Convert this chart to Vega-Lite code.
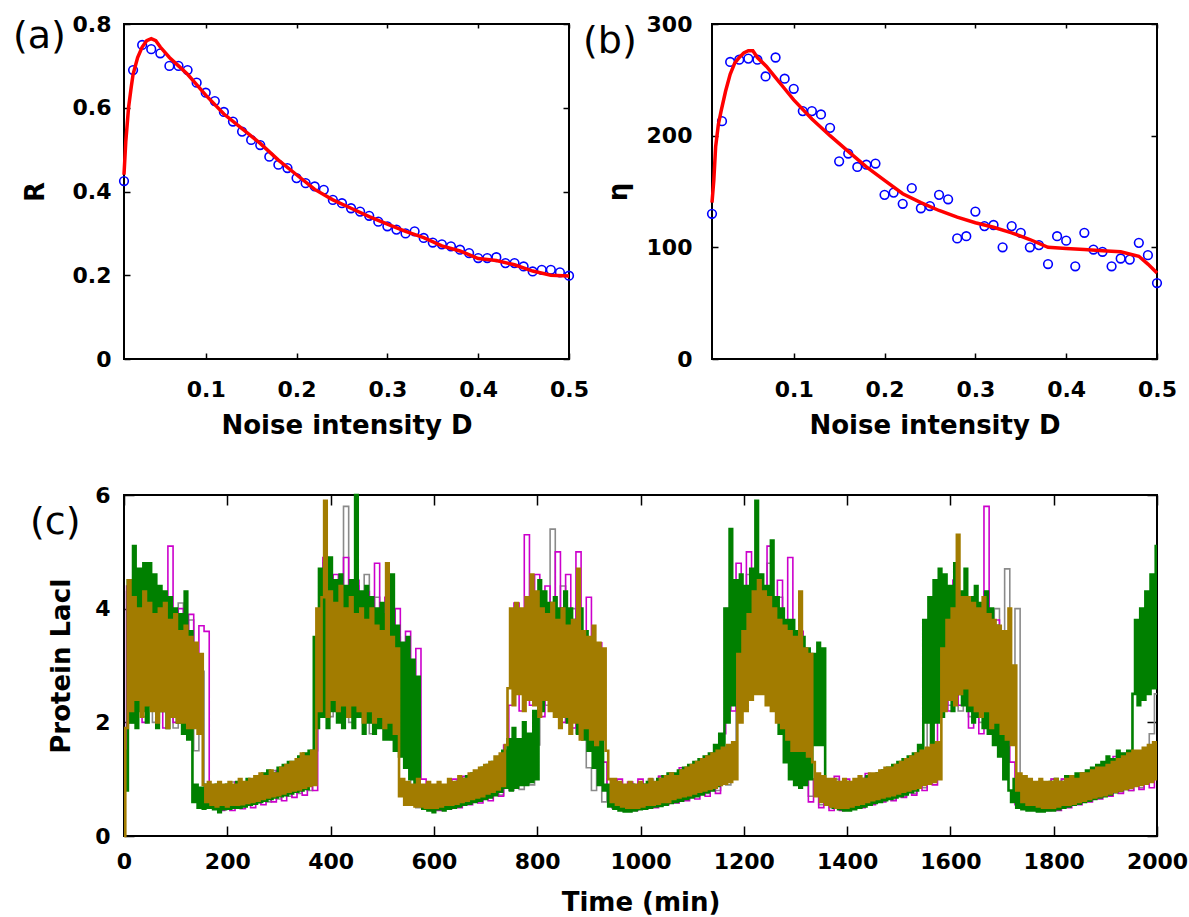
{
"$schema": "https://vega.github.io/schema/vega-lite/v6.json",
"background": "white",
"padding": {"left": 12, "top": 12, "right": 5, "bottom": 5},
"spacing": 44,
"config": {
  "view": {"stroke": "black", "strokeWidth": 2},
  "axis": {"domain": false, "grid": false, "tickColor": "black", "tickWidth": 1.5, "labelFont": "DejaVu Sans", "labelFontWeight": "bold", "labelFontSize": 22, "labelColor": "black", "titleFont": "DejaVu Sans", "titleFontWeight": "bold", "titleFontSize": 26, "titleColor": "black", "labelOverlap": false, "labelFlush": false}
},
"datasets": {
  "pa": [{"D":0.01,"R":0.425},{"D":0.02,"R":0.69},{"D":0.03,"R":0.75},{"D":0.04,"R":0.74},{"D":0.05,"R":0.73},{"D":0.06,"R":0.70},{"D":0.07,"R":0.70},{"D":0.08,"R":0.69},{"D":0.09,"R":0.66},{"D":0.1,"R":0.636},{"D":0.11,"R":0.616},{"D":0.12,"R":0.59},{"D":0.13,"R":0.567},{"D":0.14,"R":0.543},{"D":0.15,"R":0.523},{"D":0.16,"R":0.511},{"D":0.17,"R":0.483},{"D":0.18,"R":0.464},{"D":0.19,"R":0.456},{"D":0.2,"R":0.432},{"D":0.21,"R":0.42},{"D":0.22,"R":0.412},{"D":0.23,"R":0.404},{"D":0.24,"R":0.38},{"D":0.25,"R":0.372},{"D":0.26,"R":0.36},{"D":0.27,"R":0.352},{"D":0.28,"R":0.342},{"D":0.29,"R":0.328},{"D":0.3,"R":0.317},{"D":0.31,"R":0.309},{"D":0.32,"R":0.30},{"D":0.33,"R":0.305},{"D":0.34,"R":0.289},{"D":0.35,"R":0.278},{"D":0.36,"R":0.274},{"D":0.37,"R":0.269},{"D":0.38,"R":0.261},{"D":0.39,"R":0.253},{"D":0.4,"R":0.241},{"D":0.41,"R":0.241},{"D":0.42,"R":0.243},{"D":0.43,"R":0.229},{"D":0.44,"R":0.229},{"D":0.45,"R":0.221},{"D":0.46,"R":0.209},{"D":0.47,"R":0.213},{"D":0.48,"R":0.213},{"D":0.49,"R":0.207},{"D":0.5,"R":0.199}],
  "ca": [{"D":0.01,"R":0.44},{"D":0.012,"R":0.52},{"D":0.015,"R":0.6},{"D":0.018,"R":0.65},{"D":0.02,"R":0.68},{"D":0.025,"R":0.72},{"D":0.03,"R":0.745},{"D":0.035,"R":0.76},{"D":0.04,"R":0.765},{"D":0.045,"R":0.76},{"D":0.05,"R":0.745},{"D":0.06,"R":0.72},{"D":0.07,"R":0.70},{"D":0.08,"R":0.68},{"D":0.09,"R":0.655},{"D":0.1,"R":0.63},{"D":0.12,"R":0.585},{"D":0.14,"R":0.55},{"D":0.16,"R":0.515},{"D":0.18,"R":0.475},{"D":0.2,"R":0.44},{"D":0.22,"R":0.405},{"D":0.24,"R":0.38},{"D":0.26,"R":0.36},{"D":0.28,"R":0.34},{"D":0.3,"R":0.322},{"D":0.32,"R":0.305},{"D":0.34,"R":0.29},{"D":0.36,"R":0.27},{"D":0.38,"R":0.258},{"D":0.4,"R":0.24},{"D":0.42,"R":0.235},{"D":0.44,"R":0.225},{"D":0.46,"R":0.21},{"D":0.48,"R":0.2},{"D":0.5,"R":0.198}],
  "pb": [{"D":0.01,"E":130},{"D":0.021,"E":213},{"D":0.03,"E":266},{"D":0.04,"E":268},{"D":0.05,"E":269},{"D":0.06,"E":268},{"D":0.069,"E":253},{"D":0.08,"E":270},{"D":0.09,"E":251},{"D":0.1,"E":242},{"D":0.11,"E":222},{"D":0.12,"E":222},{"D":0.13,"E":219},{"D":0.14,"E":207},{"D":0.15,"E":177},{"D":0.16,"E":184},{"D":0.17,"E":172},{"D":0.18,"E":174},{"D":0.19,"E":175},{"D":0.2,"E":147},{"D":0.21,"E":149},{"D":0.22,"E":139},{"D":0.23,"E":153},{"D":0.24,"E":135},{"D":0.25,"E":137},{"D":0.26,"E":147},{"D":0.27,"E":143},{"D":0.28,"E":108},{"D":0.29,"E":110},{"D":0.3,"E":132},{"D":0.31,"E":119},{"D":0.32,"E":120},{"D":0.33,"E":100},{"D":0.34,"E":119},{"D":0.35,"E":113},{"D":0.36,"E":100},{"D":0.37,"E":102},{"D":0.38,"E":85},{"D":0.39,"E":110},{"D":0.4,"E":106},{"D":0.41,"E":83},{"D":0.42,"E":113},{"D":0.43,"E":98},{"D":0.44,"E":96},{"D":0.45,"E":83},{"D":0.46,"E":90},{"D":0.47,"E":89},{"D":0.48,"E":104},{"D":0.49,"E":93},{"D":0.5,"E":68}],
  "cb": [{"D":0.01,"E":140},{"D":0.012,"E":160},{"D":0.014,"E":190},{"D":0.017,"E":210},{"D":0.02,"E":222},{"D":0.025,"E":240},{"D":0.03,"E":255},{"D":0.035,"E":265},{"D":0.04,"E":270},{"D":0.045,"E":274},{"D":0.05,"E":276},{"D":0.055,"E":276},{"D":0.06,"E":270},{"D":0.07,"E":262},{"D":0.08,"E":252},{"D":0.09,"E":242},{"D":0.1,"E":232},{"D":0.12,"E":215},{"D":0.14,"E":200},{"D":0.16,"E":186},{"D":0.18,"E":172},{"D":0.2,"E":160},{"D":0.22,"E":148},{"D":0.24,"E":140},{"D":0.26,"E":133},{"D":0.28,"E":127},{"D":0.3,"E":122},{"D":0.32,"E":118},{"D":0.34,"E":113},{"D":0.36,"E":107},{"D":0.38,"E":100},{"D":0.4,"E":99},{"D":0.42,"E":98},{"D":0.44,"E":97},{"D":0.46,"E":96},{"D":0.48,"E":92},{"D":0.49,"E":85},{"D":0.5,"E":77}],
  "gray": [{"t":0,"v":1.2},{"t":10,"v":4.3},{"t":20,"v":2.0},{"t":30,"v":4.4},{"t":40,"v":2.1},{"t":50,"v":4.2},{"t":60,"v":2.0},{"t":70,"v":4.3},{"t":80,"v":2.2},{"t":90,"v":4.0},{"t":100,"v":1.9},{"t":110,"v":4.1},{"t":120,"v":2.0},{"t":130,"v":3.8},{"t":140,"v":1.5},{"t":150,"v":2.9},{"t":160,"v":0.6},{"t":170,"v":0.9},{"t":180,"v":0.5},{"t":190,"v":0.9},{"t":200,"v":0.5},{"t":210,"v":0.95},{"t":220,"v":0.52},{"t":230,"v":0.95},{"t":240,"v":0.55},{"t":250,"v":1.0},{"t":260,"v":0.58},{"t":270,"v":1.05},{"t":280,"v":0.6},{"t":290,"v":1.15},{"t":300,"v":0.65},{"t":310,"v":1.2},{"t":320,"v":0.7},{"t":330,"v":1.3},{"t":340,"v":0.75},{"t":350,"v":1.4},{"t":360,"v":0.8},{"t":370,"v":1.5},{"t":380,"v":2.3},{"t":390,"v":4.6},{"t":400,"v":2.1},{"t":410,"v":4.5},{"t":420,"v":2.2},{"t":430,"v":5.8},{"t":440,"v":2.0},{"t":450,"v":4.4},{"t":460,"v":2.1},{"t":470,"v":4.6},{"t":480,"v":1.8},{"t":490,"v":4.2},{"t":500,"v":2.0},{"t":510,"v":3.9},{"t":520,"v":1.7},{"t":530,"v":3.5},{"t":540,"v":1.4},{"t":550,"v":3.0},{"t":560,"v":0.9},{"t":570,"v":0.5},{"t":580,"v":0.9},{"t":590,"v":0.5},{"t":600,"v":0.88},{"t":610,"v":0.5},{"t":620,"v":0.9},{"t":630,"v":0.52},{"t":640,"v":0.95},{"t":650,"v":0.55},{"t":660,"v":1.0},{"t":670,"v":0.6},{"t":680,"v":1.05},{"t":690,"v":0.62},{"t":700,"v":1.15},{"t":710,"v":0.68},{"t":720,"v":1.25},{"t":730,"v":0.72},{"t":740,"v":1.35},{"t":750,"v":0.8},{"t":760,"v":1.45},{"t":770,"v":0.82},{"t":780,"v":1.5},{"t":790,"v":0.9},{"t":800,"v":1.6},{"t":810,"v":4.3},{"t":820,"v":2.3},{"t":830,"v":5.4},{"t":840,"v":2.2},{"t":850,"v":4.4},{"t":860,"v":2.0},{"t":870,"v":4.0},{"t":880,"v":1.8},{"t":890,"v":3.5},{"t":900,"v":1.2},{"t":910,"v":0.8},{"t":920,"v":1.3},{"t":930,"v":0.6},{"t":940,"v":1.0},{"t":950,"v":0.5},{"t":960,"v":0.95},{"t":970,"v":0.5},{"t":980,"v":0.9},{"t":990,"v":0.5},{"t":1000,"v":0.95},{"t":1010,"v":0.52},{"t":1020,"v":1.0},{"t":1030,"v":0.55},{"t":1040,"v":1.05},{"t":1050,"v":0.58},{"t":1060,"v":1.1},{"t":1070,"v":0.62},{"t":1080,"v":1.15},{"t":1090,"v":0.65},{"t":1100,"v":1.2},{"t":1110,"v":0.7},{"t":1120,"v":1.3},{"t":1130,"v":0.75},{"t":1140,"v":1.4},{"t":1150,"v":0.8},{"t":1160,"v":1.55},{"t":1170,"v":0.9},{"t":1180,"v":1.6},{"t":1190,"v":3.8},{"t":1200,"v":2.4},{"t":1210,"v":4.6},{"t":1220,"v":2.6},{"t":1230,"v":4.4},{"t":1240,"v":2.5},{"t":1250,"v":4.8},{"t":1260,"v":2.2},{"t":1270,"v":4.2},{"t":1280,"v":2.0},{"t":1290,"v":3.8},{"t":1300,"v":1.4},{"t":1310,"v":2.0},{"t":1320,"v":1.2},{"t":1330,"v":0.7},{"t":1340,"v":1.0},{"t":1350,"v":0.55},{"t":1360,"v":1.0},{"t":1370,"v":0.5},{"t":1380,"v":1.0},{"t":1390,"v":0.5},{"t":1400,"v":0.95},{"t":1410,"v":0.52},{"t":1420,"v":1.0},{"t":1430,"v":0.55},{"t":1440,"v":1.05},{"t":1450,"v":0.58},{"t":1460,"v":1.1},{"t":1470,"v":0.62},{"t":1480,"v":1.15},{"t":1490,"v":0.65},{"t":1500,"v":1.2},{"t":1510,"v":0.7},{"t":1520,"v":1.25},{"t":1530,"v":0.75},{"t":1540,"v":1.35},{"t":1550,"v":0.85},{"t":1560,"v":2.0},{"t":1570,"v":4.2},{"t":1580,"v":2.2},{"t":1590,"v":4.4},{"t":1600,"v":2.3},{"t":1610,"v":4.5},{"t":1620,"v":2.2},{"t":1630,"v":4.2},{"t":1640,"v":2.1},{"t":1650,"v":4.1},{"t":1660,"v":2.0},{"t":1670,"v":4.3},{"t":1680,"v":1.9},{"t":1690,"v":4.0},{"t":1700,"v":2.0},{"t":1710,"v":4.7},{"t":1720,"v":2.2},{"t":1730,"v":4.0},{"t":1740,"v":0.8},{"t":1750,"v":0.55},{"t":1760,"v":0.95},{"t":1770,"v":0.5},{"t":1780,"v":0.95},{"t":1790,"v":0.5},{"t":1800,"v":1.0},{"t":1810,"v":0.5},{"t":1820,"v":1.0},{"t":1830,"v":0.55},{"t":1840,"v":1.05},{"t":1850,"v":0.58},{"t":1860,"v":1.1},{"t":1870,"v":0.62},{"t":1880,"v":1.15},{"t":1890,"v":0.68},{"t":1900,"v":1.25},{"t":1910,"v":0.72},{"t":1920,"v":1.3},{"t":1930,"v":0.78},{"t":1940,"v":1.4},{"t":1950,"v":0.8},{"t":1960,"v":1.45},{"t":1970,"v":0.85},{"t":1980,"v":1.5},{"t":1990,"v":1.8},{"t":2000,"v":2.5}],
  "mag": [{"t":0,"v":1.3},{"t":10,"v":4.4},{"t":20,"v":2.1},{"t":30,"v":4.6},{"t":40,"v":2.0},{"t":50,"v":4.5},{"t":60,"v":2.2},{"t":70,"v":4.1},{"t":80,"v":1.9},{"t":90,"v":5.1},{"t":100,"v":2.0},{"t":110,"v":4.0},{"t":120,"v":2.1},{"t":130,"v":3.9},{"t":140,"v":2.4},{"t":150,"v":3.7},{"t":160,"v":3.6},{"t":170,"v":0.5},{"t":180,"v":0.9},{"t":190,"v":0.45},{"t":200,"v":0.9},{"t":210,"v":0.45},{"t":220,"v":0.95},{"t":230,"v":0.48},{"t":240,"v":0.95},{"t":250,"v":0.5},{"t":260,"v":1.05},{"t":270,"v":0.55},{"t":280,"v":1.1},{"t":290,"v":0.6},{"t":300,"v":1.15},{"t":310,"v":0.62},{"t":320,"v":1.25},{"t":330,"v":0.68},{"t":340,"v":1.35},{"t":350,"v":0.72},{"t":360,"v":1.45},{"t":370,"v":0.8},{"t":380,"v":2.6},{"t":390,"v":4.9},{"t":400,"v":2.4},{"t":410,"v":4.6},{"t":420,"v":2.2},{"t":430,"v":4.9},{"t":440,"v":2.4},{"t":450,"v":4.5},{"t":460,"v":2.2},{"t":470,"v":4.3},{"t":480,"v":2.0},{"t":490,"v":4.8},{"t":500,"v":2.1},{"t":510,"v":4.2},{"t":520,"v":1.9},{"t":530,"v":4.0},{"t":540,"v":1.8},{"t":550,"v":3.6},{"t":560,"v":1.7},{"t":570,"v":3.3},{"t":580,"v":1.0},{"t":590,"v":0.5},{"t":600,"v":0.9},{"t":610,"v":0.45},{"t":620,"v":0.9},{"t":630,"v":0.48},{"t":640,"v":1.0},{"t":650,"v":0.5},{"t":660,"v":1.05},{"t":670,"v":0.55},{"t":680,"v":1.1},{"t":690,"v":0.58},{"t":700,"v":1.2},{"t":710,"v":0.62},{"t":720,"v":1.3},{"t":730,"v":0.7},{"t":740,"v":1.6},{"t":750,"v":2.3},{"t":760,"v":4.1},{"t":770,"v":2.2},{"t":780,"v":5.3},{"t":790,"v":2.3},{"t":800,"v":4.6},{"t":810,"v":2.1},{"t":820,"v":4.4},{"t":830,"v":2.4},{"t":840,"v":5.0},{"t":850,"v":2.0},{"t":860,"v":4.6},{"t":870,"v":1.9},{"t":880,"v":5.0},{"t":890,"v":1.8},{"t":900,"v":4.2},{"t":910,"v":1.6},{"t":920,"v":3.4},{"t":930,"v":1.3},{"t":940,"v":0.8},{"t":950,"v":0.5},{"t":960,"v":1.0},{"t":970,"v":0.45},{"t":980,"v":0.95},{"t":990,"v":0.45},{"t":1000,"v":1.0},{"t":1010,"v":0.48},{"t":1020,"v":0.95},{"t":1030,"v":0.5},{"t":1040,"v":1.05},{"t":1050,"v":0.55},{"t":1060,"v":1.1},{"t":1070,"v":0.58},{"t":1080,"v":1.2},{"t":1090,"v":0.62},{"t":1100,"v":1.25},{"t":1110,"v":0.65},{"t":1120,"v":1.3},{"t":1130,"v":0.7},{"t":1140,"v":1.45},{"t":1150,"v":0.75},{"t":1160,"v":1.8},{"t":1170,"v":4.0},{"t":1180,"v":2.2},{"t":1190,"v":4.8},{"t":1200,"v":2.6},{"t":1210,"v":5.0},{"t":1220,"v":2.8},{"t":1230,"v":4.6},{"t":1240,"v":2.5},{"t":1250,"v":5.1},{"t":1260,"v":2.2},{"t":1270,"v":4.5},{"t":1280,"v":2.0},{"t":1290,"v":4.9},{"t":1300,"v":1.8},{"t":1310,"v":3.6},{"t":1320,"v":1.4},{"t":1330,"v":0.6},{"t":1340,"v":1.0},{"t":1350,"v":0.5},{"t":1360,"v":1.0},{"t":1370,"v":0.45},{"t":1380,"v":1.05},{"t":1390,"v":0.45},{"t":1400,"v":1.0},{"t":1410,"v":0.48},{"t":1420,"v":1.0},{"t":1430,"v":0.5},{"t":1440,"v":1.1},{"t":1450,"v":0.55},{"t":1460,"v":1.1},{"t":1470,"v":0.6},{"t":1480,"v":1.2},{"t":1490,"v":0.62},{"t":1500,"v":1.25},{"t":1510,"v":0.68},{"t":1520,"v":1.3},{"t":1530,"v":0.72},{"t":1540,"v":1.4},{"t":1550,"v":0.8},{"t":1560,"v":1.5},{"t":1570,"v":0.9},{"t":1580,"v":3.0},{"t":1590,"v":4.4},{"t":1600,"v":2.2},{"t":1610,"v":4.5},{"t":1620,"v":2.3},{"t":1630,"v":4.2},{"t":1640,"v":1.9},{"t":1650,"v":4.0},{"t":1660,"v":1.8},{"t":1670,"v":5.8},{"t":1680,"v":2.0},{"t":1690,"v":3.8},{"t":1700,"v":1.6},{"t":1710,"v":3.4},{"t":1720,"v":1.3},{"t":1730,"v":0.55},{"t":1740,"v":1.0},{"t":1750,"v":0.5},{"t":1760,"v":0.95},{"t":1770,"v":0.45},{"t":1780,"v":0.95},{"t":1790,"v":0.45},{"t":1800,"v":1.0},{"t":1810,"v":0.45},{"t":1820,"v":1.0},{"t":1830,"v":0.5},{"t":1840,"v":1.05},{"t":1850,"v":0.55},{"t":1860,"v":1.1},{"t":1870,"v":0.6},{"t":1880,"v":1.2},{"t":1890,"v":0.65},{"t":1900,"v":1.3},{"t":1910,"v":0.7},{"t":1920,"v":1.4},{"t":1930,"v":0.75},{"t":1940,"v":1.45},{"t":1950,"v":0.8},{"t":1960,"v":1.45},{"t":1970,"v":0.82},{"t":1980,"v":1.5},{"t":1990,"v":0.85},{"t":2000,"v":1.3}],
  "grn": [{"t":0,"v":1.5},{"t":5,"v":0.8},{"t":10,"v":4.5},{"t":15,"v":2.0},{"t":20,"v":5.1},{"t":25,"v":1.9},{"t":30,"v":4.7},{"t":35,"v":2.2},{"t":40,"v":4.8},{"t":45,"v":2.0},{"t":50,"v":4.8},{"t":55,"v":2.3},{"t":60,"v":4.6},{"t":65,"v":1.9},{"t":70,"v":4.4},{"t":75,"v":2.2},{"t":80,"v":4.3},{"t":85,"v":1.9},{"t":90,"v":4.2},{"t":95,"v":2.1},{"t":100,"v":4.0},{"t":105,"v":2.0},{"t":110,"v":3.9},{"t":115,"v":1.8},{"t":120,"v":4.3},{"t":125,"v":1.7},{"t":130,"v":3.6},{"t":135,"v":0.6},{"t":140,"v":0.9},{"t":145,"v":0.5},{"t":150,"v":0.85},{"t":155,"v":0.48},{"t":160,"v":0.9},{"t":165,"v":0.5},{"t":170,"v":0.85},{"t":175,"v":0.47},{"t":180,"v":0.9},{"t":185,"v":0.42},{"t":190,"v":0.85},{"t":195,"v":0.47},{"t":200,"v":0.9},{"t":205,"v":0.48},{"t":210,"v":0.85},{"t":215,"v":0.5},{"t":220,"v":0.95},{"t":225,"v":0.5},{"t":230,"v":0.9},{"t":235,"v":0.52},{"t":240,"v":1.0},{"t":245,"v":0.55},{"t":250,"v":0.95},{"t":255,"v":0.57},{"t":260,"v":1.05},{"t":265,"v":0.6},{"t":270,"v":1.1},{"t":275,"v":0.62},{"t":280,"v":1.15},{"t":285,"v":0.65},{"t":290,"v":1.1},{"t":295,"v":0.68},{"t":300,"v":1.2},{"t":305,"v":0.7},{"t":310,"v":1.25},{"t":315,"v":0.72},{"t":320,"v":1.3},{"t":325,"v":0.75},{"t":330,"v":1.3},{"t":335,"v":0.78},{"t":340,"v":1.4},{"t":345,"v":0.8},{"t":350,"v":1.45},{"t":355,"v":0.83},{"t":360,"v":1.5},{"t":365,"v":1.0},{"t":370,"v":3.5},{"t":375,"v":1.9},{"t":380,"v":4.7},{"t":385,"v":2.1},{"t":390,"v":4.8},{"t":395,"v":1.9},{"t":400,"v":4.9},{"t":405,"v":2.2},{"t":410,"v":4.5},{"t":415,"v":2.0},{"t":420,"v":4.6},{"t":425,"v":1.9},{"t":430,"v":4.4},{"t":435,"v":2.1},{"t":440,"v":4.5},{"t":445,"v":1.9},{"t":450,"v":6.0},{"t":455,"v":2.1},{"t":460,"v":4.3},{"t":465,"v":1.8},{"t":470,"v":4.4},{"t":475,"v":2.0},{"t":480,"v":4.2},{"t":485,"v":1.8},{"t":490,"v":4.0},{"t":495,"v":1.9},{"t":500,"v":4.1},{"t":505,"v":1.7},{"t":510,"v":3.9},{"t":515,"v":1.7},{"t":520,"v":4.6},{"t":525,"v":1.5},{"t":530,"v":3.7},{"t":535,"v":1.4},{"t":540,"v":3.4},{"t":545,"v":1.2},{"t":550,"v":3.5},{"t":555,"v":1.0},{"t":560,"v":3.1},{"t":565,"v":0.9},{"t":570,"v":2.8},{"t":575,"v":0.8},{"t":580,"v":0.48},{"t":585,"v":0.85},{"t":590,"v":0.45},{"t":595,"v":0.8},{"t":600,"v":0.42},{"t":605,"v":0.85},{"t":610,"v":0.47},{"t":615,"v":0.8},{"t":620,"v":0.45},{"t":625,"v":0.85},{"t":630,"v":0.48},{"t":635,"v":0.9},{"t":640,"v":0.5},{"t":645,"v":0.95},{"t":650,"v":0.52},{"t":655,"v":1.0},{"t":660,"v":0.55},{"t":665,"v":1.05},{"t":670,"v":0.57},{"t":675,"v":1.1},{"t":680,"v":0.6},{"t":685,"v":1.1},{"t":690,"v":0.62},{"t":695,"v":1.2},{"t":700,"v":0.65},{"t":705,"v":1.25},{"t":710,"v":0.68},{"t":715,"v":1.3},{"t":720,"v":0.72},{"t":725,"v":1.35},{"t":730,"v":0.78},{"t":735,"v":1.5},{"t":740,"v":0.85},{"t":745,"v":1.7},{"t":750,"v":0.8},{"t":755,"v":1.9},{"t":760,"v":0.85},{"t":765,"v":1.7},{"t":770,"v":0.9},{"t":775,"v":2.0},{"t":780,"v":0.9},{"t":785,"v":1.8},{"t":790,"v":0.95},{"t":795,"v":2.2},{"t":800,"v":1.0},{"t":805,"v":4.5},{"t":810,"v":2.2},{"t":815,"v":4.3},{"t":820,"v":2.5},{"t":825,"v":4.1},{"t":830,"v":2.4},{"t":835,"v":4.2},{"t":840,"v":2.2},{"t":845,"v":4.0},{"t":850,"v":2.3},{"t":855,"v":4.3},{"t":860,"v":2.0},{"t":865,"v":4.0},{"t":870,"v":2.1},{"t":875,"v":3.8},{"t":880,"v":1.8},{"t":885,"v":4.0},{"t":890,"v":1.7},{"t":895,"v":3.6},{"t":900,"v":1.5},{"t":905,"v":3.4},{"t":910,"v":1.2},{"t":915,"v":3.0},{"t":920,"v":0.9},{"t":925,"v":2.2},{"t":930,"v":0.8},{"t":935,"v":0.9},{"t":940,"v":0.52},{"t":945,"v":0.9},{"t":950,"v":0.48},{"t":955,"v":0.85},{"t":960,"v":0.45},{"t":965,"v":0.85},{"t":970,"v":0.43},{"t":975,"v":0.85},{"t":980,"v":0.43},{"t":985,"v":0.9},{"t":990,"v":0.45},{"t":995,"v":0.85},{"t":1000,"v":0.47},{"t":1005,"v":0.9},{"t":1010,"v":0.48},{"t":1015,"v":0.95},{"t":1020,"v":0.5},{"t":1025,"v":0.9},{"t":1030,"v":0.52},{"t":1035,"v":1.0},{"t":1040,"v":0.53},{"t":1045,"v":1.05},{"t":1050,"v":0.55},{"t":1055,"v":1.1},{"t":1060,"v":0.58},{"t":1065,"v":1.1},{"t":1070,"v":0.6},{"t":1075,"v":1.15},{"t":1080,"v":0.62},{"t":1085,"v":1.2},{"t":1090,"v":0.65},{"t":1095,"v":1.25},{"t":1100,"v":0.68},{"t":1105,"v":1.3},{"t":1110,"v":0.7},{"t":1115,"v":1.35},{"t":1120,"v":0.73},{"t":1125,"v":1.4},{"t":1130,"v":0.77},{"t":1135,"v":1.45},{"t":1140,"v":0.8},{"t":1145,"v":1.6},{"t":1150,"v":0.88},{"t":1155,"v":1.8},{"t":1160,"v":1.1},{"t":1165,"v":4.0},{"t":1170,"v":2.0},{"t":1175,"v":5.4},{"t":1180,"v":2.3},{"t":1185,"v":4.5},{"t":1190,"v":2.6},{"t":1195,"v":4.6},{"t":1200,"v":2.8},{"t":1205,"v":4.4},{"t":1210,"v":2.6},{"t":1215,"v":4.7},{"t":1220,"v":2.9},{"t":1225,"v":5.9},{"t":1230,"v":2.8},{"t":1235,"v":4.6},{"t":1240,"v":2.6},{"t":1245,"v":4.4},{"t":1250,"v":2.5},{"t":1255,"v":5.2},{"t":1260,"v":2.3},{"t":1265,"v":4.2},{"t":1270,"v":1.8},{"t":1275,"v":4.0},{"t":1280,"v":1.3},{"t":1285,"v":3.8},{"t":1290,"v":1.0},{"t":1295,"v":3.8},{"t":1300,"v":0.9},{"t":1305,"v":3.6},{"t":1310,"v":0.85},{"t":1315,"v":3.5},{"t":1320,"v":0.9},{"t":1325,"v":3.3},{"t":1330,"v":1.0},{"t":1335,"v":3.2},{"t":1340,"v":1.6},{"t":1345,"v":3.4},{"t":1350,"v":1.6},{"t":1355,"v":3.3},{"t":1360,"v":0.9},{"t":1365,"v":0.6},{"t":1370,"v":0.95},{"t":1375,"v":0.5},{"t":1380,"v":0.95},{"t":1385,"v":0.47},{"t":1390,"v":0.9},{"t":1395,"v":0.45},{"t":1400,"v":0.95},{"t":1405,"v":0.45},{"t":1410,"v":0.9},{"t":1415,"v":0.47},{"t":1420,"v":0.95},{"t":1425,"v":0.5},{"t":1430,"v":1.0},{"t":1435,"v":0.52},{"t":1440,"v":1.05},{"t":1445,"v":0.55},{"t":1450,"v":1.05},{"t":1455,"v":0.58},{"t":1460,"v":1.1},{"t":1465,"v":0.6},{"t":1470,"v":1.15},{"t":1475,"v":0.63},{"t":1480,"v":1.2},{"t":1485,"v":0.65},{"t":1490,"v":1.25},{"t":1495,"v":0.68},{"t":1500,"v":1.3},{"t":1505,"v":0.7},{"t":1510,"v":1.35},{"t":1515,"v":0.73},{"t":1520,"v":1.4},{"t":1525,"v":0.77},{"t":1530,"v":1.45},{"t":1535,"v":0.8},{"t":1540,"v":1.6},{"t":1545,"v":1.0},{"t":1550,"v":3.8},{"t":1555,"v":2.0},{"t":1560,"v":4.2},{"t":1565,"v":1.6},{"t":1570,"v":4.5},{"t":1575,"v":2.0},{"t":1580,"v":4.7},{"t":1585,"v":2.1},{"t":1590,"v":4.6},{"t":1595,"v":2.4},{"t":1600,"v":4.4},{"t":1605,"v":2.2},{"t":1610,"v":4.8},{"t":1615,"v":2.5},{"t":1620,"v":4.3},{"t":1625,"v":2.3},{"t":1630,"v":4.7},{"t":1635,"v":2.2},{"t":1640,"v":4.2},{"t":1645,"v":2.0},{"t":1650,"v":4.4},{"t":1655,"v":2.1},{"t":1660,"v":4.1},{"t":1665,"v":1.9},{"t":1670,"v":4.3},{"t":1675,"v":1.8},{"t":1680,"v":4.0},{"t":1685,"v":1.6},{"t":1690,"v":3.7},{"t":1695,"v":1.4},{"t":1700,"v":3.0},{"t":1705,"v":1.0},{"t":1710,"v":2.2},{"t":1715,"v":0.8},{"t":1720,"v":0.6},{"t":1725,"v":1.0},{"t":1730,"v":0.5},{"t":1735,"v":1.0},{"t":1740,"v":0.47},{"t":1745,"v":0.95},{"t":1750,"v":0.45},{"t":1755,"v":0.95},{"t":1760,"v":0.45},{"t":1765,"v":0.9},{"t":1770,"v":0.43},{"t":1775,"v":0.95},{"t":1780,"v":0.43},{"t":1785,"v":0.9},{"t":1790,"v":0.45},{"t":1795,"v":0.95},{"t":1800,"v":0.45},{"t":1805,"v":1.0},{"t":1810,"v":0.47},{"t":1815,"v":0.95},{"t":1820,"v":0.5},{"t":1825,"v":1.05},{"t":1830,"v":0.52},{"t":1835,"v":1.05},{"t":1840,"v":0.55},{"t":1845,"v":1.1},{"t":1850,"v":0.57},{"t":1855,"v":1.1},{"t":1860,"v":0.6},{"t":1865,"v":1.15},{"t":1870,"v":0.62},{"t":1875,"v":1.2},{"t":1880,"v":0.65},{"t":1885,"v":1.25},{"t":1890,"v":0.68},{"t":1895,"v":1.3},{"t":1900,"v":0.7},{"t":1905,"v":1.4},{"t":1910,"v":0.73},{"t":1915,"v":1.35},{"t":1920,"v":0.77},{"t":1925,"v":1.5},{"t":1930,"v":0.8},{"t":1935,"v":1.45},{"t":1940,"v":0.83},{"t":1945,"v":1.5},{"t":1950,"v":0.88},{"t":1955,"v":2.5},{"t":1960,"v":3.8},{"t":1965,"v":2.3},{"t":1970,"v":4.0},{"t":1975,"v":2.4},{"t":1980,"v":4.3},{"t":1985,"v":2.5},{"t":1990,"v":4.6},{"t":1995,"v":2.6},{"t":2000,"v":5.1}],
  "olv": [{"t":0,"v":0},{"t":5,"v":1.9},{"t":10,"v":4.5},{"t":15,"v":2.2},{"t":20,"v":4.2},{"t":25,"v":2.4},{"t":30,"v":4.0},{"t":35,"v":2.1},{"t":40,"v":4.3},{"t":45,"v":2.3},{"t":50,"v":4.1},{"t":55,"v":2.2},{"t":60,"v":3.9},{"t":65,"v":2.0},{"t":70,"v":4.0},{"t":75,"v":2.2},{"t":80,"v":4.1},{"t":85,"v":1.9},{"t":90,"v":3.8},{"t":95,"v":2.1},{"t":100,"v":3.9},{"t":105,"v":2.0},{"t":110,"v":3.6},{"t":115,"v":2.0},{"t":120,"v":3.7},{"t":125,"v":1.9},{"t":130,"v":3.5},{"t":135,"v":1.9},{"t":140,"v":3.4},{"t":145,"v":1.8},{"t":150,"v":3.2},{"t":155,"v":0.9},{"t":160,"v":0.6},{"t":165,"v":0.95},{"t":170,"v":0.55},{"t":175,"v":0.9},{"t":180,"v":0.52},{"t":185,"v":0.95},{"t":190,"v":0.55},{"t":195,"v":0.9},{"t":200,"v":0.52},{"t":205,"v":0.95},{"t":210,"v":0.55},{"t":215,"v":0.9},{"t":220,"v":0.55},{"t":225,"v":1.0},{"t":230,"v":0.56},{"t":235,"v":0.95},{"t":240,"v":0.58},{"t":245,"v":1.0},{"t":250,"v":0.6},{"t":255,"v":1.05},{"t":260,"v":0.62},{"t":265,"v":1.1},{"t":270,"v":0.65},{"t":275,"v":1.05},{"t":280,"v":0.68},{"t":285,"v":1.15},{"t":290,"v":0.7},{"t":295,"v":1.1},{"t":300,"v":0.72},{"t":305,"v":1.2},{"t":310,"v":0.75},{"t":315,"v":1.25},{"t":320,"v":0.78},{"t":325,"v":1.3},{"t":330,"v":0.8},{"t":335,"v":1.35},{"t":340,"v":0.82},{"t":345,"v":1.45},{"t":350,"v":0.85},{"t":355,"v":1.4},{"t":360,"v":0.88},{"t":365,"v":1.5},{"t":370,"v":0.9},{"t":375,"v":4.0},{"t":380,"v":2.2},{"t":385,"v":4.2},{"t":390,"v":5.9},{"t":395,"v":2.1},{"t":400,"v":4.3},{"t":405,"v":2.4},{"t":410,"v":4.1},{"t":415,"v":2.2},{"t":420,"v":4.4},{"t":425,"v":2.3},{"t":430,"v":4.0},{"t":435,"v":2.1},{"t":440,"v":4.2},{"t":445,"v":2.3},{"t":450,"v":3.9},{"t":455,"v":2.2},{"t":460,"v":4.0},{"t":465,"v":2.0},{"t":470,"v":3.8},{"t":475,"v":2.2},{"t":480,"v":4.0},{"t":485,"v":2.0},{"t":490,"v":3.7},{"t":495,"v":2.1},{"t":500,"v":3.6},{"t":505,"v":1.9},{"t":510,"v":4.8},{"t":515,"v":2.0},{"t":520,"v":3.5},{"t":525,"v":1.8},{"t":530,"v":3.3},{"t":535,"v":0.7},{"t":540,"v":1.0},{"t":545,"v":0.55},{"t":550,"v":0.95},{"t":555,"v":0.55},{"t":560,"v":0.9},{"t":565,"v":0.52},{"t":570,"v":1.0},{"t":575,"v":0.52},{"t":580,"v":0.9},{"t":585,"v":0.5},{"t":590,"v":0.95},{"t":595,"v":0.5},{"t":600,"v":0.9},{"t":605,"v":0.5},{"t":610,"v":0.95},{"t":615,"v":0.52},{"t":620,"v":0.9},{"t":625,"v":0.55},{"t":630,"v":1.0},{"t":635,"v":0.55},{"t":640,"v":0.95},{"t":645,"v":0.57},{"t":650,"v":1.05},{"t":655,"v":0.6},{"t":660,"v":1.0},{"t":665,"v":0.62},{"t":670,"v":1.1},{"t":675,"v":0.65},{"t":680,"v":1.15},{"t":685,"v":0.68},{"t":690,"v":1.2},{"t":695,"v":0.7},{"t":700,"v":1.25},{"t":705,"v":0.75},{"t":710,"v":1.3},{"t":715,"v":0.78},{"t":720,"v":1.4},{"t":725,"v":0.82},{"t":730,"v":1.45},{"t":735,"v":0.88},{"t":740,"v":1.6},{"t":745,"v":2.6},{"t":750,"v":4.0},{"t":755,"v":2.3},{"t":760,"v":4.1},{"t":765,"v":2.5},{"t":770,"v":4.0},{"t":775,"v":2.2},{"t":780,"v":4.2},{"t":785,"v":2.4},{"t":790,"v":4.6},{"t":795,"v":2.3},{"t":800,"v":4.3},{"t":805,"v":2.1},{"t":810,"v":4.0},{"t":815,"v":2.4},{"t":820,"v":3.9},{"t":825,"v":2.2},{"t":830,"v":4.1},{"t":835,"v":2.1},{"t":840,"v":3.8},{"t":845,"v":1.9},{"t":850,"v":4.0},{"t":855,"v":2.1},{"t":860,"v":3.7},{"t":865,"v":1.8},{"t":870,"v":3.8},{"t":875,"v":2.0},{"t":880,"v":4.7},{"t":885,"v":1.7},{"t":890,"v":3.6},{"t":895,"v":1.9},{"t":900,"v":3.5},{"t":905,"v":1.7},{"t":910,"v":3.7},{"t":915,"v":1.6},{"t":920,"v":3.4},{"t":925,"v":1.7},{"t":930,"v":3.3},{"t":935,"v":1.5},{"t":940,"v":1.0},{"t":945,"v":0.6},{"t":950,"v":1.0},{"t":955,"v":0.55},{"t":960,"v":0.95},{"t":965,"v":0.52},{"t":970,"v":0.9},{"t":975,"v":0.5},{"t":980,"v":0.95},{"t":985,"v":0.5},{"t":990,"v":0.9},{"t":995,"v":0.5},{"t":1000,"v":0.95},{"t":1005,"v":0.52},{"t":1010,"v":0.9},{"t":1015,"v":0.55},{"t":1020,"v":1.0},{"t":1025,"v":0.55},{"t":1030,"v":0.95},{"t":1035,"v":0.57},{"t":1040,"v":1.0},{"t":1045,"v":0.6},{"t":1050,"v":1.05},{"t":1055,"v":0.6},{"t":1060,"v":1.1},{"t":1065,"v":0.65},{"t":1070,"v":1.05},{"t":1075,"v":0.68},{"t":1080,"v":1.15},{"t":1085,"v":0.7},{"t":1090,"v":1.2},{"t":1095,"v":0.72},{"t":1100,"v":1.25},{"t":1105,"v":0.75},{"t":1110,"v":1.3},{"t":1115,"v":0.78},{"t":1120,"v":1.35},{"t":1125,"v":0.8},{"t":1130,"v":1.4},{"t":1135,"v":0.83},{"t":1140,"v":1.45},{"t":1145,"v":0.85},{"t":1150,"v":1.5},{"t":1155,"v":0.9},{"t":1160,"v":1.55},{"t":1165,"v":0.92},{"t":1170,"v":1.6},{"t":1175,"v":0.95},{"t":1180,"v":1.65},{"t":1185,"v":1.0},{"t":1190,"v":3.2},{"t":1195,"v":2.0},{"t":1200,"v":3.6},{"t":1205,"v":2.2},{"t":1210,"v":3.9},{"t":1215,"v":2.4},{"t":1220,"v":4.3},{"t":1225,"v":2.5},{"t":1230,"v":4.5},{"t":1235,"v":2.5},{"t":1240,"v":4.3},{"t":1245,"v":2.3},{"t":1250,"v":4.2},{"t":1255,"v":2.2},{"t":1260,"v":4.0},{"t":1265,"v":2.0},{"t":1270,"v":3.8},{"t":1275,"v":1.9},{"t":1280,"v":3.7},{"t":1285,"v":1.7},{"t":1290,"v":3.6},{"t":1295,"v":1.5},{"t":1300,"v":3.5},{"t":1305,"v":1.5},{"t":1310,"v":4.3},{"t":1315,"v":1.5},{"t":1320,"v":3.3},{"t":1325,"v":1.4},{"t":1330,"v":3.2},{"t":1335,"v":1.3},{"t":1340,"v":0.7},{"t":1345,"v":1.1},{"t":1350,"v":0.6},{"t":1355,"v":1.05},{"t":1360,"v":0.55},{"t":1365,"v":1.0},{"t":1370,"v":0.52},{"t":1375,"v":1.0},{"t":1380,"v":0.5},{"t":1385,"v":0.95},{"t":1390,"v":0.5},{"t":1395,"v":1.0},{"t":1400,"v":0.5},{"t":1405,"v":0.95},{"t":1410,"v":0.52},{"t":1415,"v":1.0},{"t":1420,"v":0.55},{"t":1425,"v":1.05},{"t":1430,"v":0.57},{"t":1435,"v":1.0},{"t":1440,"v":0.6},{"t":1445,"v":1.1},{"t":1450,"v":0.63},{"t":1455,"v":1.1},{"t":1460,"v":0.65},{"t":1465,"v":1.15},{"t":1470,"v":0.68},{"t":1475,"v":1.2},{"t":1480,"v":0.7},{"t":1485,"v":1.2},{"t":1490,"v":0.72},{"t":1495,"v":1.25},{"t":1500,"v":0.75},{"t":1505,"v":1.3},{"t":1510,"v":0.78},{"t":1515,"v":1.35},{"t":1520,"v":0.8},{"t":1525,"v":1.4},{"t":1530,"v":0.83},{"t":1535,"v":1.45},{"t":1540,"v":0.85},{"t":1545,"v":1.5},{"t":1550,"v":0.9},{"t":1555,"v":1.55},{"t":1560,"v":0.92},{"t":1565,"v":1.6},{"t":1570,"v":0.95},{"t":1575,"v":1.65},{"t":1580,"v":1.0},{"t":1585,"v":3.3},{"t":1590,"v":2.2},{"t":1595,"v":3.8},{"t":1600,"v":2.4},{"t":1605,"v":4.0},{"t":1610,"v":2.3},{"t":1615,"v":5.3},{"t":1620,"v":2.5},{"t":1625,"v":4.2},{"t":1630,"v":2.6},{"t":1635,"v":4.2},{"t":1640,"v":2.3},{"t":1645,"v":4.1},{"t":1650,"v":2.2},{"t":1655,"v":4.0},{"t":1660,"v":2.1},{"t":1665,"v":4.2},{"t":1670,"v":2.2},{"t":1675,"v":3.9},{"t":1680,"v":1.9},{"t":1685,"v":3.8},{"t":1690,"v":2.0},{"t":1695,"v":3.7},{"t":1700,"v":1.8},{"t":1705,"v":3.6},{"t":1710,"v":1.7},{"t":1715,"v":4.0},{"t":1720,"v":1.6},{"t":1725,"v":3.0},{"t":1730,"v":0.8},{"t":1735,"v":1.1},{"t":1740,"v":0.6},{"t":1745,"v":1.05},{"t":1750,"v":0.55},{"t":1755,"v":1.0},{"t":1760,"v":0.55},{"t":1765,"v":0.95},{"t":1770,"v":0.52},{"t":1775,"v":1.0},{"t":1780,"v":0.5},{"t":1785,"v":0.95},{"t":1790,"v":0.5},{"t":1795,"v":0.95},{"t":1800,"v":0.5},{"t":1805,"v":1.0},{"t":1810,"v":0.52},{"t":1815,"v":0.95},{"t":1820,"v":0.55},{"t":1825,"v":1.0},{"t":1830,"v":0.55},{"t":1835,"v":1.05},{"t":1840,"v":0.57},{"t":1845,"v":1.0},{"t":1850,"v":0.6},{"t":1855,"v":1.1},{"t":1860,"v":0.62},{"t":1865,"v":1.1},{"t":1870,"v":0.65},{"t":1875,"v":1.15},{"t":1880,"v":0.68},{"t":1885,"v":1.2},{"t":1890,"v":0.7},{"t":1895,"v":1.2},{"t":1900,"v":0.72},{"t":1905,"v":1.25},{"t":1910,"v":0.75},{"t":1915,"v":1.3},{"t":1920,"v":0.78},{"t":1925,"v":1.35},{"t":1930,"v":0.8},{"t":1935,"v":1.4},{"t":1940,"v":0.83},{"t":1945,"v":1.45},{"t":1950,"v":0.85},{"t":1955,"v":1.5},{"t":1960,"v":0.88},{"t":1965,"v":1.5},{"t":1970,"v":0.9},{"t":1975,"v":1.55},{"t":1980,"v":0.92},{"t":1985,"v":1.6},{"t":1990,"v":0.95},{"t":1995,"v":1.65},{"t":2000,"v":1.0}]
},
"vconcat": [
  {
    "bounds": "flush",
    "spacing": 143,
    "hconcat": [
      {
        "width": 445, "height": 335,
        "title": {"text": "(a)", "anchor": "start", "frame": "group", "orient": "top", "offset": 0, "baseline": "middle", "dx": -111, "dy": 62, "font": "DejaVu Sans", "fontSize": 38, "fontWeight": "normal", "color": "black"},
        "layer": [
          {"data": {"name": "pa"}, "mark": {"type": "point", "shape": "circle", "filled": false, "stroke": "#0000ff", "strokeWidth": 1.6, "size": 75, "opacity": 1},
           "encoding": {
             "x": {"field": "D", "type": "quantitative", "scale": {"domain": [0.01, 0.5], "nice": false, "zero": false}, "axis": {"orient": "bottom", "values": [0.1,0.2,0.3,0.4,0.5], "format": ".1f", "tickSize": -6, "labelPadding": 26, "title": "Noise intensity D", "titlePadding": 12}},
             "y": {"field": "R", "type": "quantitative", "scale": {"domain": [0, 0.8], "nice": false}, "axis": {"orient": "left", "values": [0,0.2,0.4,0.6,0.8], "format": "~g", "tickSize": -6, "labelPadding": 19, "title": "R", "titlePadding": 24}}
           }},
          {"data": {"name": "ca"}, "mark": {"type": "line", "color": "#ff0000", "strokeWidth": 3.5},
           "encoding": {
             "x": {"field": "D", "type": "quantitative", "scale": {"domain": [0.01, 0.5], "nice": false, "zero": false}, "axis": {"orient": "top", "values": [0.1,0.2,0.3,0.4,0.5], "labels": false, "tickSize": -4, "title": null}},
             "y": {"field": "R", "type": "quantitative", "scale": {"domain": [0, 0.8], "nice": false}, "axis": {"orient": "right", "values": [0,0.2,0.4,0.6,0.8], "labels": false, "tickSize": -6, "title": null}}
           }}
        ],
        "resolve": {"axis": {"x": "independent", "y": "independent"}}
      },
      {
        "width": 445, "height": 335,
        "title": {"text": "(b)", "anchor": "start", "frame": "group", "orient": "top", "offset": 0, "baseline": "middle", "dx": -129, "dy": 67, "font": "DejaVu Sans", "fontSize": 38, "fontWeight": "normal", "color": "black"},
        "layer": [
          {"data": {"name": "pb"}, "mark": {"type": "point", "shape": "circle", "filled": false, "stroke": "#0000ff", "strokeWidth": 1.6, "size": 75, "opacity": 1},
           "encoding": {
             "x": {"field": "D", "type": "quantitative", "scale": {"domain": [0.01, 0.5], "nice": false, "zero": false}, "axis": {"orient": "bottom", "values": [0.1,0.2,0.3,0.4,0.5], "format": ".1f", "tickSize": -6, "labelPadding": 26, "title": "Noise intensity D", "titlePadding": 12}},
             "y": {"field": "E", "type": "quantitative", "scale": {"domain": [0, 300], "nice": false}, "axis": {"orient": "left", "values": [0,100,200,300], "format": "d", "tickSize": -6, "labelPadding": 26, "title": "η", "titlePadding": 15}}
           }},
          {"data": {"name": "cb"}, "mark": {"type": "line", "color": "#ff0000", "strokeWidth": 3.5},
           "encoding": {
             "x": {"field": "D", "type": "quantitative", "scale": {"domain": [0.01, 0.5], "nice": false, "zero": false}, "axis": {"orient": "top", "values": [0.1,0.2,0.3,0.4,0.5], "labels": false, "tickSize": -4, "title": null}},
             "y": {"field": "E", "type": "quantitative", "scale": {"domain": [0, 300], "nice": false}, "axis": {"orient": "right", "values": [0,100,200,300], "labels": false, "tickSize": -6, "title": null}}
           }}
        ],
        "resolve": {"axis": {"x": "independent", "y": "independent"}}
      }
    ]
  },
  {
    "width": 1033, "height": 341,
    "title": {"text": "(c)", "anchor": "start", "frame": "group", "orient": "top", "offset": 0, "baseline": "middle", "dx": -94, "dy": 77, "font": "DejaVu Sans", "fontSize": 38, "fontWeight": "normal", "color": "black"},
    "layer": [
      {"data": {"name": "gray"}, "mark": {"type": "line", "color": "#8a8a8a", "strokeWidth": 1.6, "interpolate": "step"},
       "encoding": {
         "x": {"field": "t", "type": "quantitative", "scale": {"domain": [0, 2000], "nice": false}, "axis": {"orient": "bottom", "values": [0,200,400,600,800,1000,1200,1400,1600,1800,2000], "format": "d", "tickSize": -10, "labelPadding": 25, "title": "Time (min)", "titlePadding": 17}},
         "y": {"field": "v", "type": "quantitative", "scale": {"domain": [0, 6], "nice": false}, "axis": {"orient": "left", "values": [0,2,4,6], "format": "d", "tickSize": -10, "labelPadding": 24, "title": "Protein LacI", "titlePadding": 20}}
       }},
      {"data": {"name": "mag"}, "mark": {"type": "line", "color": "#cc00cc", "strokeWidth": 1.6, "interpolate": "step"},
       "encoding": {
         "x": {"field": "t", "type": "quantitative", "scale": {"domain": [0, 2000], "nice": false}, "axis": {"orient": "top", "values": [0,200,400,600,800,1000,1200,1400,1600,1800,2000], "labels": false, "tickSize": -10, "title": null}},
         "y": {"field": "v", "type": "quantitative", "scale": {"domain": [0, 6], "nice": false}, "axis": {"orient": "right", "values": [0,2,4,6], "labels": false, "tickSize": -10, "title": null}}
       }},
      {"data": {"name": "grn"}, "mark": {"type": "line", "color": "#008000", "strokeWidth": 2.6, "interpolate": "step"},
       "encoding": {
         "x": {"field": "t", "type": "quantitative", "scale": {"domain": [0, 2000], "nice": false}, "axis": null},
         "y": {"field": "v", "type": "quantitative", "scale": {"domain": [0, 6], "nice": false}, "axis": null}
       }},
      {"data": {"name": "olv"}, "mark": {"type": "line", "color": "#a27c00", "strokeWidth": 2.6, "interpolate": "step"},
       "encoding": {
         "x": {"field": "t", "type": "quantitative", "scale": {"domain": [0, 2000], "nice": false}, "axis": null},
         "y": {"field": "v", "type": "quantitative", "scale": {"domain": [0, 6], "nice": false}, "axis": null}
       }}
    ],
    "resolve": {"axis": {"x": "independent", "y": "independent"}}
  }
]
}
